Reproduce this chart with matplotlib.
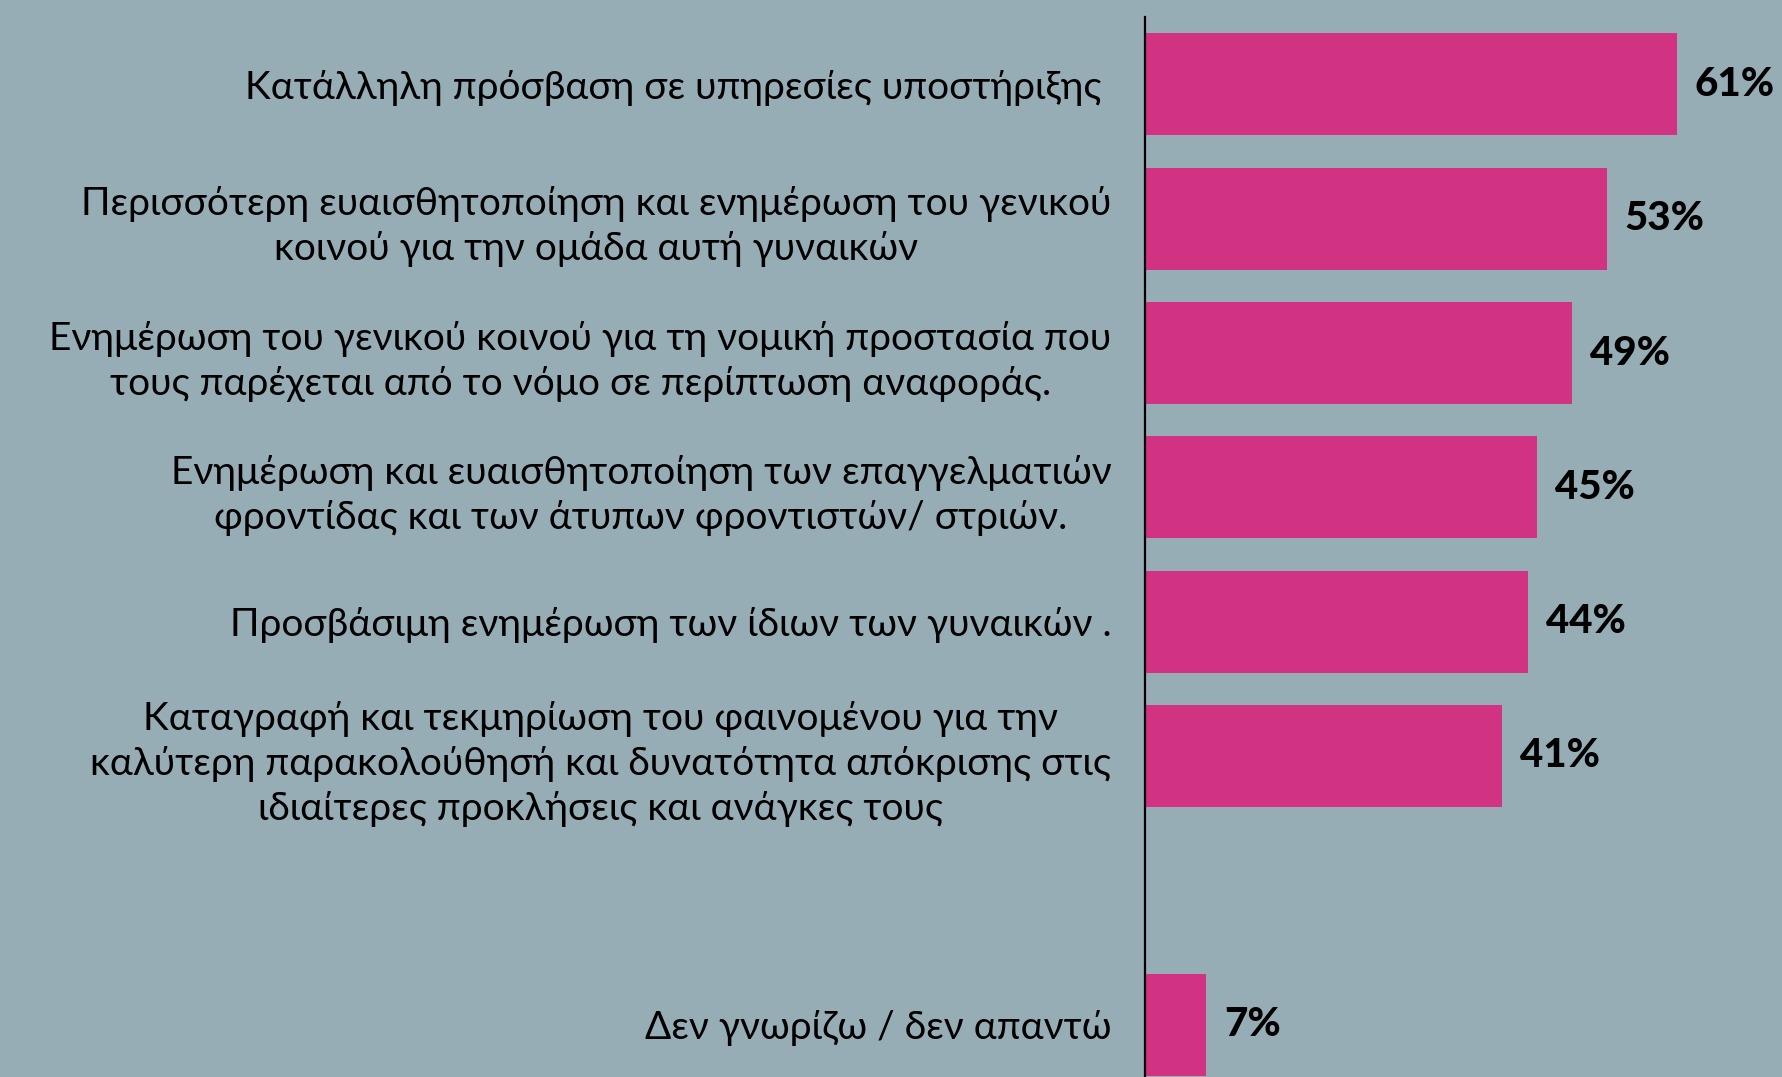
import matplotlib
matplotlib.use("Agg")
import matplotlib.pyplot as plt

categories = [
    "Κατάλληλη πρόσβαση σε υπηρεσίες υποστήριξης ",
    "Περισσότερη ευαισθητοποίηση και ενημέρωση του γενικού\nκοινού για την ομάδα αυτή γυναικών",
    "Ενημέρωση του γενικού κοινού για τη νομική προστασία που\nτους παρέχεται από το νόμο σε περίπτωση αναφοράς.",
    "Ενημέρωση και ευαισθητοποίηση των επαγγελματιών\nφροντίδας και των άτυπων φροντιστών/ στριών.",
    "Προσβάσιμη ενημέρωση των ίδιων των γυναικών .",
    "Καταγραφή και τεκμηρίωση του φαινομένου για την\nκαλύτερη παρακολούθησή και δυνατότητα απόκρισης στις\nιδιαίτερες προκλήσεις και ανάγκες τους",
    "Δεν γνωρίζω / δεν απαντώ",
]
values = [61, 53, 49, 45, 44, 41, 7]
positions = [0, 1, 2, 3, 4, 5, 7]
value_labels = ["61%", "53%", "49%", "45%", "44%", "41%", "7%"]

BG = "#97adb5"
BAR = "#d23282"

fig = plt.figure(figsize=(17.83, 10.77), dpi=100, facecolor=BG)
ax = fig.add_axes([0.642, 0.0, 0.358, 0.984], facecolor=BG)

ax.barh(positions, values, height=0.76, color=BAR)
ax.set_ylim(7.39, -0.5)
ax.set_xlim(0, 73.2)

for p, v, lab in zip(positions, values, value_labels):
    ax.annotate(lab, xy=(v, p), xytext=(13, 0), textcoords="offset points",
                ha="left", va="center", fontsize=29, fontweight="black",
                family=["Lato", "DejaVu Sans"], color="black")

ax.set_yticks(positions)
ax.set_yticklabels(categories, fontsize=28, fontweight="normal",
                   family=["Lato", "DejaVu Sans"],
                   multialignment="center", linespacing=1.32)
ax.tick_params(axis="y", length=0, pad=24)
ax.set_xticks([])
for s in ["top", "right", "bottom"]:
    ax.spines[s].set_visible(False)
ax.spines["left"].set_linewidth(1.6)
ax.spines["left"].set_color("black")

fig.savefig("out.png", dpi=100, facecolor=BG)
